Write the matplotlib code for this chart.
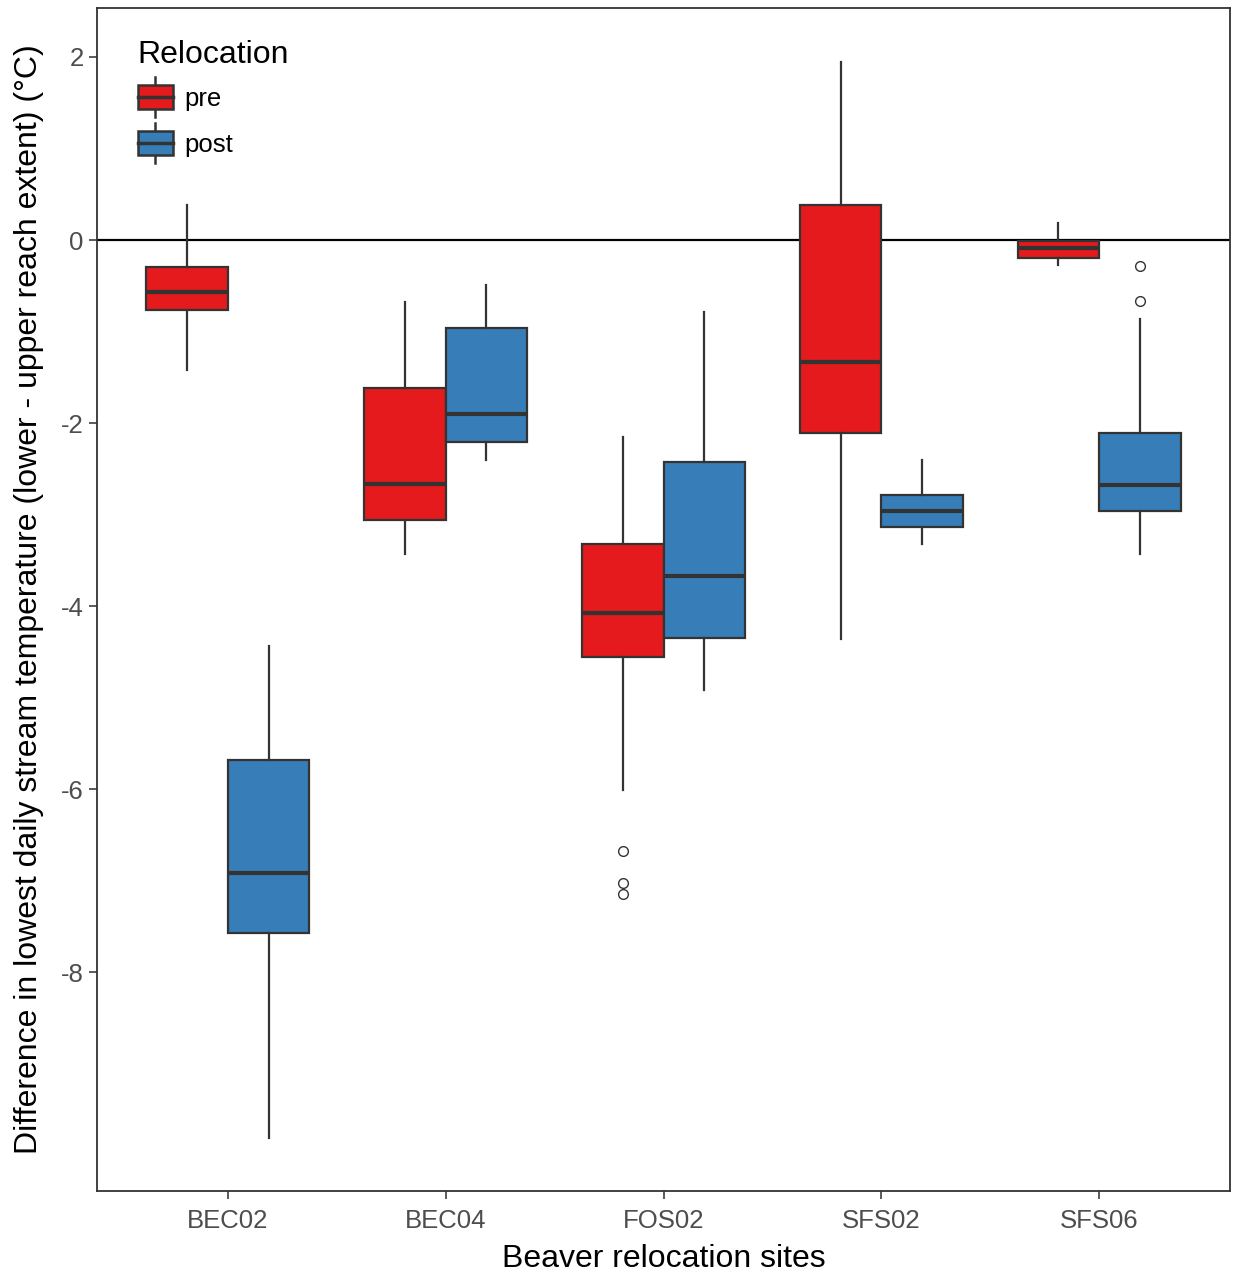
import matplotlib
matplotlib.use("Agg")
import matplotlib.pyplot as plt
from matplotlib.legend_handler import HandlerBase
from matplotlib.patches import Rectangle, Patch
from matplotlib.lines import Line2D

plt.rcParams['font.family'] = ['Liberation Sans', 'DejaVu Sans']

sites = ["BEC02", "BEC04", "FOS02", "SFS02", "SFS06"]
groups = ["pre", "post"]
colors = {"pre": "#E41A1C", "post": "#377EB8"}

# box statistics: (whislo, q1, med, q3, whishi)
pre_stats = [
    (-1.42, -0.765, -0.568, -0.295, 0.383),
    (-3.43, -3.06, -2.67, -1.62, -0.68),
    (-6.01, -4.56, -4.07, -3.32, -2.15),
    (-4.36, -2.11, -1.33, 0.38, 1.95),
    (-0.27, -0.20, -0.09, -0.01, 0.19),
]
post_stats = [
    (-9.81, -7.57, -6.92, -5.68, -4.44),
    (-2.40, -2.21, -1.90, -0.96, -0.49),
    (-4.92, -4.35, -3.67, -2.42, -0.79),
    (-3.32, -3.14, -2.96, -2.78, -2.40),
    (-3.43, -2.96, -2.68, -2.11, -0.86),
]
pre_outliers = [[], [], [-6.68, -7.02, -7.14], [], []]
post_outliers = [[], [], [], [], [-0.28, -0.67]]

edge = "#333333"


def make_stats(stats, outliers):
    out = []
    for (lo, q1, med, q3, hi), fl in zip(stats, outliers):
        out.append(dict(whislo=lo, q1=q1, med=med, q3=q3, whishi=hi, fliers=fl))
    return out


fig = plt.figure(figsize=(12.35, 12.74), dpi=100)
ax = fig.add_axes([0.0785, 0.0651, 0.9175, 0.9286])

width = 0.375
x = range(1, len(sites) + 1)
for grp, stats, fl, off in [("pre", pre_stats, pre_outliers, -width / 2),
                            ("post", post_stats, post_outliers, width / 2)]:
    ax.bxp(make_stats(stats, fl), positions=[p + off for p in x], widths=width,
           patch_artist=True, showcaps=False, manage_ticks=False,
           boxprops=dict(facecolor=colors[grp], edgecolor=edge, linewidth=1.6),
           medianprops=dict(color=edge, linewidth=3),
           whiskerprops=dict(color=edge, linewidth=1.6),
           flierprops=dict(marker='o', markerfacecolor='white', markeredgecolor=edge,
                           markersize=7, markeredgewidth=1.0))

ax.axhline(0, color="black", linewidth=1.6, zorder=1)

ax.set_xlim(0.4, 5.6)
ax.set_ylim(-10.39, 2.535)
ax.set_xticks(list(x))
ax.set_xticklabels(sites)
ax.set_yticks([2, 0, -2, -4, -6, -8])
ax.set_yticklabels(["2", "0", "-2", "-4", "-6", "-8"])
ax.tick_params(labelsize=18.5, colors="#4D4D4D", length=6, width=1.3)
ax.tick_params(axis="x", pad=7)
for sp in ax.spines.values():
    sp.set_color("#333333")
    sp.set_linewidth(1.3)

ax.set_xlabel("Beaver relocation sites", fontsize=23, labelpad=8)
ax.set_ylabel("Difference in lowest daily stream temperature (lower - upper reach extent) (\u00b0C)",
              fontsize=23, labelpad=12)


class BoxHandler(HandlerBase):
    def create_artists(self, legend, orig_handle, xdescent, ydescent, width, height,
                       fontsize, trans):
        fc = orig_handle.get_facecolor()
        cx = -xdescent + width / 2
        by = -ydescent
        rect = Rectangle((-xdescent, by), width, height, facecolor=fc, edgecolor=edge,
                         linewidth=1.8, transform=trans)
        med = Line2D([-xdescent, -xdescent + width], [by + height / 2] * 2, color=edge,
                     linewidth=2.5, transform=trans)
        w1 = Line2D([cx, cx], [by - height * 0.33, by], color=edge, linewidth=1.8,
                    transform=trans)
        w2 = Line2D([cx, cx], [by + height, by + height * 1.33], color=edge,
                    linewidth=1.8, transform=trans)
        return [w1, w2, rect, med]


handles = [Patch(facecolor=colors[g]) for g in groups]
leg = ax.legend(handles, groups, title="Relocation", loc="upper left",
                bbox_to_anchor=(0.027, 0.982), frameon=False, fontsize=18.5,
                title_fontsize=23, handler_map={Patch: BoxHandler()},
                handlelength=1.36, handleheight=1.05, labelspacing=0.8,
                handletextpad=0.45, borderaxespad=0)
leg._legend_box.align = "left"
leg._legend_box.sep = 11

fig.savefig("out.png", dpi=100)
